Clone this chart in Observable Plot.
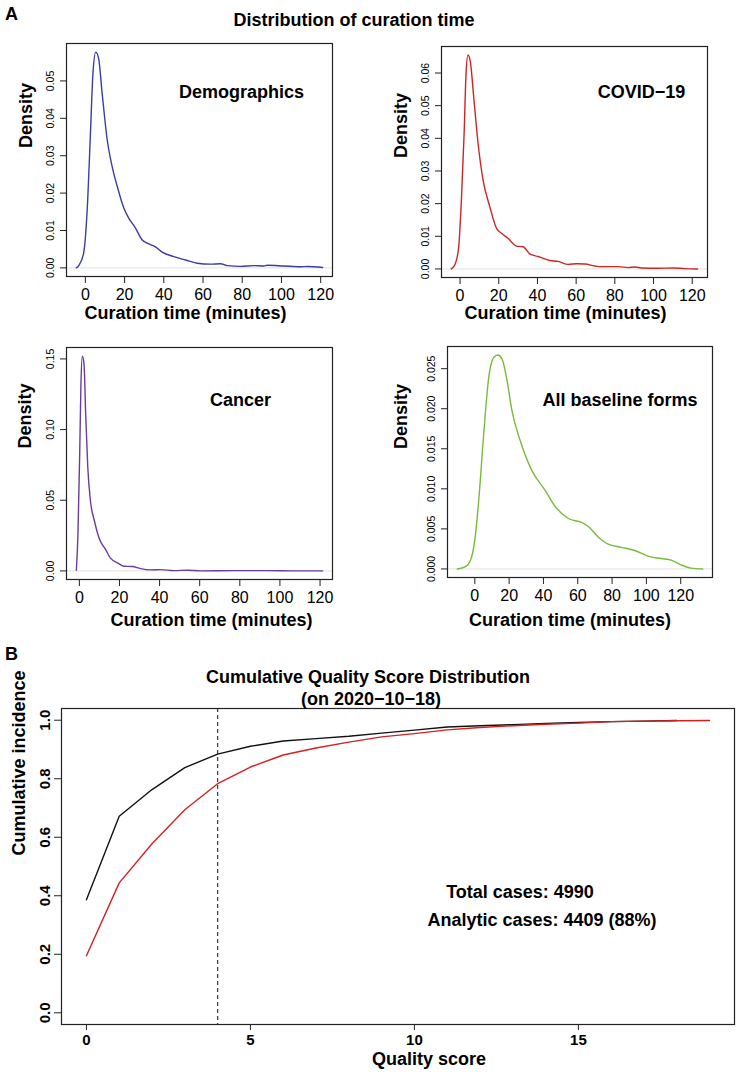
<!DOCTYPE html>
<html>
<head>
<meta charset="utf-8">
<script src="https://cdn.jsdelivr.net/npm/d3@7"></script>
<script src="https://cdn.jsdelivr.net/npm/@observablehq/plot@0.6"></script>
<style>
  body { margin: 0; background: #fff; }
  #fig { position: relative; width: 736px; height: 1074px; font-family: "Liberation Sans", Arial, Helvetica, sans-serif; color: #000; }
  #fig .t { position: absolute; font-weight: bold; font-size: 18px; line-height: 18px; white-space: nowrap; }
  #fig .p { position: absolute; }
</style>
</head>
<body>
<div id="fig"></div>
<script>
// ---------- Data ----------
// Panel A: density curves of curation time (minutes)
const demoMinutes = [-4.6, -3.3, -0.9, 1.2, 2.6, 3.9, 5.3, 6.8, 8.5, 11.1, 13.6, 16.2, 19.6, 22.1, 25.5, 28.9, 31.5, 35.7, 39.2, 45.1, 51.1, 57, 63.8, 68.9, 72.3, 79.2, 86, 91, 92.8, 101.3, 109.8, 113.2, 121];
const demoDensity = [0, 0.0007, 0.0039, 0.0183, 0.0362, 0.0523, 0.0577, 0.0559, 0.047, 0.0344, 0.0272, 0.0219, 0.016, 0.0133, 0.0107, 0.0075, 0.0066, 0.0056, 0.0042, 0.003, 0.0021, 0.00125, 0.001, 0.0011, 0.0006, 0.0004, 0.0006, 0.0005, 0.0007, 0.0005, 0.0003, 0.00035, 0.0001];

const covidMinutes = [-4.5, -2.4, -0.7, 0.7, 2.1, 3.1, 4.1, 5.3, 7.2, 9.3, 11.9, 15.4, 18.8, 21.4, 24.8, 29.1, 32.6, 36.0, 40.4, 46.4, 50.7, 55.9, 60.2, 64.5, 69.7, 73.1, 81.7, 86.9, 90.4, 93.8, 102.4, 110.2, 116.2, 122.8];
const covidDensity = [0, 0.0017, 0.0068, 0.0211, 0.0415, 0.0599, 0.0655, 0.0635, 0.0517, 0.0385, 0.0272, 0.019, 0.0125, 0.0109, 0.0094, 0.007, 0.0068, 0.0046, 0.0038, 0.0026, 0.0023, 0.0014, 0.0016, 0.0015, 0.0009, 0.0007, 0.0007, 0.0004, 0.0006, 0.0003, 0.0002, 0.0003, 0.0001, 0];

const cancerMinutes = [-1.5, -0.7, 0.2, 0.8, 1.5, 2.3, 3.2, 4.2, 5.5, 7.5, 10.2, 13, 15.5, 19.7, 22.2, 26.3, 30.5, 35.5, 40.5, 47.2, 53.8, 60.5, 77.2, 93.8, 107.2, 121.3];
const cancerDensity = [0.0005, 0.026, 0.0853, 0.1327, 0.152, 0.1469, 0.109, 0.0734, 0.0498, 0.0355, 0.0218, 0.0154, 0.009, 0.0052, 0.0033, 0.0031, 0.0016, 0.0007, 0.0009, 0.0002, 0.0005, 0, 0.0002, 0.0002, 0, 0];

const allMinutes = [-10.2, -5.4, -2.5, 0, 2.3, 5.2, 8.1, 11, 13.5, 15.9, 18.8, 21.6, 26.5, 33.2, 41, 46.8, 54.5, 62.2, 66.1, 71.9, 77.7, 85.4, 93.2, 100.9, 108.6, 114.4, 120.2, 126, 132.8];
const allDensity = [0, 0.0003, 0.0011, 0.0036, 0.0086, 0.0169, 0.0239, 0.0264, 0.0267, 0.0262, 0.0235, 0.0198, 0.016, 0.0123, 0.0098, 0.0078, 0.0063, 0.0058, 0.0053, 0.004, 0.0031, 0.0027, 0.0023, 0.0016, 0.0013, 0.0011, 0.0005, 0.0001, 0];

const minuteTicks = [0, 20, 40, 60, 80, 100, 120];
const demoTicks = [0, 0.01, 0.02, 0.03, 0.04, 0.05];
const covidTicks = [0, 0.01, 0.02, 0.03, 0.04, 0.05, 0.06];
const cancerTicks = [0, 0.05, 0.10, 0.15];
const allTicks = [0, 0.005, 0.010, 0.015, 0.020, 0.025];

// Panel B: cumulative quality score distribution
const qualityScore = [0, 1, 2, 3, 4, 5, 6, 7, 8, 9, 10, 11, 12, 13, 14, 15, 16, 17, 18, 19];
const cumTotal    = [0.386, 0.672, 0.763, 0.838, 0.884, 0.911, 0.929, 0.937, 0.945, 0.956, 0.966, 0.977, 0.981, 0.985, 0.989, 0.992, 0.995, 0.997, 0.999];
const cumAnalytic = [0.195, 0.444, 0.578, 0.694, 0.783, 0.840, 0.881, 0.905, 0.925, 0.943, 0.954, 0.967, 0.975, 0.981, 0.986, 0.990, 0.995, 0.997, 0.998, 0.999];
const qualityCutoff = [4];
const incidenceLimits = [0, 1];
const scoreTicks = [0, 5, 10, 15];
const incidenceTicks = [0, 0.2, 0.4, 0.6, 0.8, 1.0];

// ---------- Drawing ----------
const FONT = '"Liberation Sans", Arial, Helvetica, sans-serif';
const fig = document.getElementById("fig");

function rExtend(lo, hi) { const r = hi - lo; return [lo - 0.04 * r, hi + 0.04 * r]; }

function place(el, left, top) {
  const wrap = document.createElement("div");
  wrap.className = "p";
  wrap.style.left = left + "px";
  wrap.style.top = top + "px";
  wrap.appendChild(el);
  fig.appendChild(wrap);
}

function label(text, cx, top) {
  const d = document.createElement("div");
  d.className = "t";
  d.textContent = text;
  d.style.top = top + "px";
  if (cx === null) { d.style.left = "5px"; }
  else { d.style.left = cx + "px"; d.style.transform = "translateX(-50%)"; }
  fig.appendChild(d);
}

function densityPanel(p) {
  const data = p.x.map((x, i) => ({minutes: x, density: p.y[i]}));
  return Plot.plot({
    width: p.w, height: p.h,
    marginLeft: p.ml, marginRight: p.mr, marginTop: p.mt, marginBottom: p.mb,
    x: {domain: rExtend(d3.min(p.x), d3.max(p.x))},
    y: {domain: rExtend(0, d3.max(p.y))},
    style: {fontFamily: FONT, color: "#000", background: "#fff"},
    marks: [
      Plot.ruleY([0], {stroke: "#e2e2e2", strokeWidth: 1}),
      Plot.line(data, {x: "minutes", y: "density", stroke: p.color, strokeWidth: 1.4, curve: "monotone-x"}),
      Plot.frame({stroke: "#222", strokeWidth: 1.2}),
      Plot.axisX({ticks: minuteTicks, tickSize: 7, tickPadding: 5, fontSize: 16, label: null, stroke: "#222"}),
      Plot.axisY({ticks: p.ticks, tickSize: 6, tickPadding: 7, tickRotate: -90, fontSize: 10.5,
                  tickFormat: d => d.toFixed(p.dec), label: null, stroke: "#222"}),
      Plot.text([p.name], {text: d => d, frameAnchor: "top", dx: p.nameDx, dy: p.nameDy, fontSize: 18, fontWeight: "bold"}),
      Plot.text(["Curation time (minutes)"], {text: d => d, frameAnchor: "bottom", dx: p.xtDx, dy: p.xtDy, fontSize: 18, fontWeight: "bold"}),
      Plot.text(["Density"], {text: d => d, frameAnchor: "left", rotate: -90, dx: p.ytDx, dy: p.ytDy, fontSize: 18, fontWeight: "bold"})
    ]
  });
}

place(densityPanel({
  x: demoMinutes, y: demoDensity, color: "#3b3ca6", name: "Demographics", ticks: demoTicks, dec: 2,
  w: 368, h: 330, ml: 66, mr: 36, mt: 43, mb: 54,
  nameDx: 42, nameDy: 42, xtDx: -14, xtDy: 42, ytDx: -40, ytDy: -12
}), 0, 0);

place(densityPanel({
  x: covidMinutes, y: covidDensity, color: "#d02424", name: "COVID\u221219", ticks: covidTicks, dec: 2,
  w: 368, h: 330, ml: 73, mr: 29, mt: 46, mb: 53,
  nameDx: 67, nameDy: 39, xtDx: -9, xtDy: 41, ytDx: -40, ytDy: -4
}), 368, 0);

place(densityPanel({
  x: cancerMinutes, y: cancerDensity, color: "#6a3d9a", name: "Cancer", ticks: cancerTicks, dec: 2,
  w: 368, h: 310, ml: 66, mr: 36, mt: 17, mb: 61,
  nameDx: 41, nameDy: 46, xtDx: 12, xtDy: 46, ytDx: -41, ytDy: -15
}), 0, 330);

place(densityPanel({
  x: allMinutes, y: allDensity, color: "#77bb3c", name: "All baseline forms", ticks: allTicks, dec: 3,
  w: 368, h: 310, ml: 79, mr: 24, mt: 16, mb: 63,
  nameDx: 40, nameDy: 47, xtDx: -10, xtDy: 48, ytDx: -46, ytDy: -13
}), 368, 330);

// Panel B
const totalData = cumTotal.map((v, i) => ({score: qualityScore[i], value: v}));
const analyticData = cumAnalytic.map((v, i) => ({score: qualityScore[i], value: v}));

place(Plot.plot({
  width: 736, height: 434,
  marginLeft: 61, marginRight: 2, marginTop: 68, marginBottom: 50,
  x: {domain: rExtend(d3.min(qualityScore), d3.max(qualityScore))},
  y: {domain: rExtend(incidenceLimits[0], incidenceLimits[1])},
  style: {fontFamily: FONT, color: "#000", background: "#fff"},
  marks: [
    Plot.ruleX(qualityCutoff, {stroke: "#444", strokeWidth: 1.3, strokeDasharray: "4,3"}),
    Plot.line(totalData, {x: "score", y: "value", stroke: "#111", strokeWidth: 1.4}),
    Plot.line(analyticData, {x: "score", y: "value", stroke: "#d42020", strokeWidth: 1.4}),
    Plot.frame({stroke: "#222", strokeWidth: 1.2}),
    Plot.axisX({ticks: scoreTicks, tickSize: 6, tickPadding: 4, fontSize: 15, fontWeight: "bold", label: null, stroke: "#222"}),
    Plot.axisY({ticks: incidenceTicks, tickSize: 7, tickPadding: 5, tickRotate: -90, fontSize: 15, fontWeight: "bold",
                tickFormat: d => d.toFixed(1), label: null, stroke: "#222"}),
    Plot.text(["Cumulative Quality Score Distribution"], {text: d => d, frameAnchor: "top", dx: -30, dy: -38, fontSize: 18, fontWeight: "bold"}),
    Plot.text(["(on 2020\u221210\u221218)"], {text: d => d, frameAnchor: "top", dx: -27, dy: -16, fontSize: 18, fontWeight: "bold"}),
    Plot.text(["Total cases: 4990"], {text: d => d, frameAnchor: "middle", dx: 122, dy: 26, fontSize: 18, fontWeight: "bold"}),
    Plot.text(["Analytic cases: 4409 (88%)"], {text: d => d, frameAnchor: "middle", dx: 144, dy: 54, fontSize: 18, fontWeight: "bold"}),
    Plot.text(["Quality score"], {text: d => d, frameAnchor: "bottom", dx: 31, dy: 40, fontSize: 18, fontWeight: "bold"}),
    Plot.text(["Cumulative incidence"], {text: d => d, frameAnchor: "left", rotate: -90, dx: -42, dy: -11, fontSize: 18, fontWeight: "bold"})
  ]
}), 0, 640);

// Panel letters and A title
label("A", null, 5);
label("Distribution of curation time", 354, 11);
label("B", null, 645);
</script>
</body>
</html>
